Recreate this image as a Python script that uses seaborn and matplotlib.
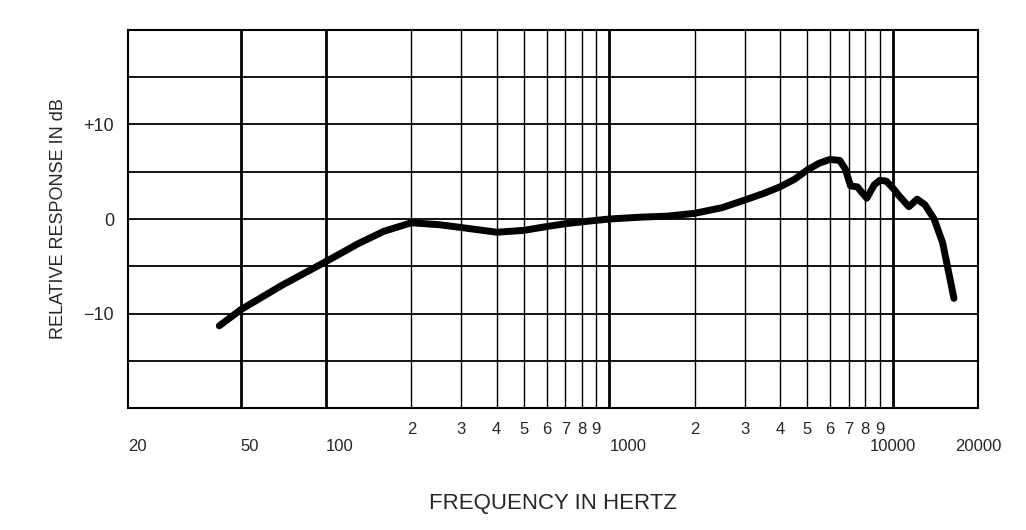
import matplotlib
matplotlib.use("Agg")
import matplotlib.pyplot as plt
import seaborn as sns
import pandas as pd

freq = [42, 50, 70, 100, 130, 160, 200, 250, 300, 400, 500, 600, 700, 800, 1000, 1300, 1600, 2000, 2500,
        3000, 3500, 4000, 4500, 5000, 5500, 6000, 6500, 6800, 7100, 7500, 8100, 8600, 9000, 9500, 10000,
        10500, 11400, 12200, 13000, 14000, 15000, 16450]
resp = [-11.3, -9.6, -7.0, -4.5, -2.6, -1.3, -0.4, -0.6, -0.9, -1.4, -1.2, -0.8, -0.5, -0.3, 0.0, 0.2, 0.3, 0.6, 1.2,
        2.0, 2.7, 3.4, 4.2, 5.2, 5.9, 6.3, 6.2, 5.3, 3.5, 3.4, 2.2, 3.6, 4.1, 4.0, 3.3,
        2.5, 1.3, 2.1, 1.5, 0.0, -2.5, -8.4]
xtick_pos = [20, 50, 100, 200, 300, 400, 500, 600, 700, 800, 900, 1000, 2000, 3000, 4000, 5000, 6000, 7000, 8000, 9000, 10000, 20000]
xtick_lab = ["20", "50", "100", "2", "3", "4", "5", "6", "7", "8", "9", "1000", "2", "3", "4", "5", "6", "7", "8", "9", "10000", "20000"]
ytick_pos = [-10, 0, 10]
ytick_lab = ["\u221210", "0", "+10"]

sns.set_style("white")
plt.rcParams['font.family'] = ['Liberation Sans', 'DejaVu Sans']
fig = plt.figure(figsize=(10.26, 5.3), dpi=100)
ax = fig.add_axes([128/1026, 1-408/530, 850/1026, 378/530])
df = pd.DataFrame({"f": freq, "r": resp})
ax.set_xscale("log")
ax.set_xlim(20, 20000)
ax.set_ylim(-20, 20)
for y in range(-15, 20, 5):
    ax.axhline(y, color="black", lw=1.3, zorder=1)
for f in [50, 100, 200, 300, 400, 500, 600, 700, 800, 900, 1000, 2000, 3000, 4000, 5000, 6000, 7000, 8000, 9000, 10000]:
    thick = f in (50, 100, 1000, 10000)
    ax.axvline(f, color="black", lw=2.0 if thick else 1.0, zorder=1)
sns.lineplot(data=df, x="f", y="r", ax=ax, color="black", lw=5, zorder=3, solid_capstyle="round")
for s in ax.spines.values():
    s.set_linewidth(1.5)
    s.set_color("black")
ax.set_xticks(xtick_pos)
ax.set_xticklabels(xtick_lab, fontsize=12)
ax.minorticks_off()
ax.set_xticks([], minor=True)
ax.set_yticks(ytick_pos)
ax.set_yticklabels(ytick_lab, fontsize=13)
ax.tick_params(length=0, pad=10)
for lbl, p in zip(ax.get_xticklabels(), xtick_pos):
    if p in (20, 50, 100, 1000, 10000, 20000):
        lbl.set_y(-0.045)
        lbl.set_horizontalalignment("left" if p in (20, 50, 100, 1000) else "center")
ax.set_xlabel("FREQUENCY IN HERTZ", fontsize=16, labelpad=28)
ax.set_ylabel("RELATIVE RESPONSE IN dB", fontsize=13, labelpad=12)
fig.savefig("out.png", dpi=100)
